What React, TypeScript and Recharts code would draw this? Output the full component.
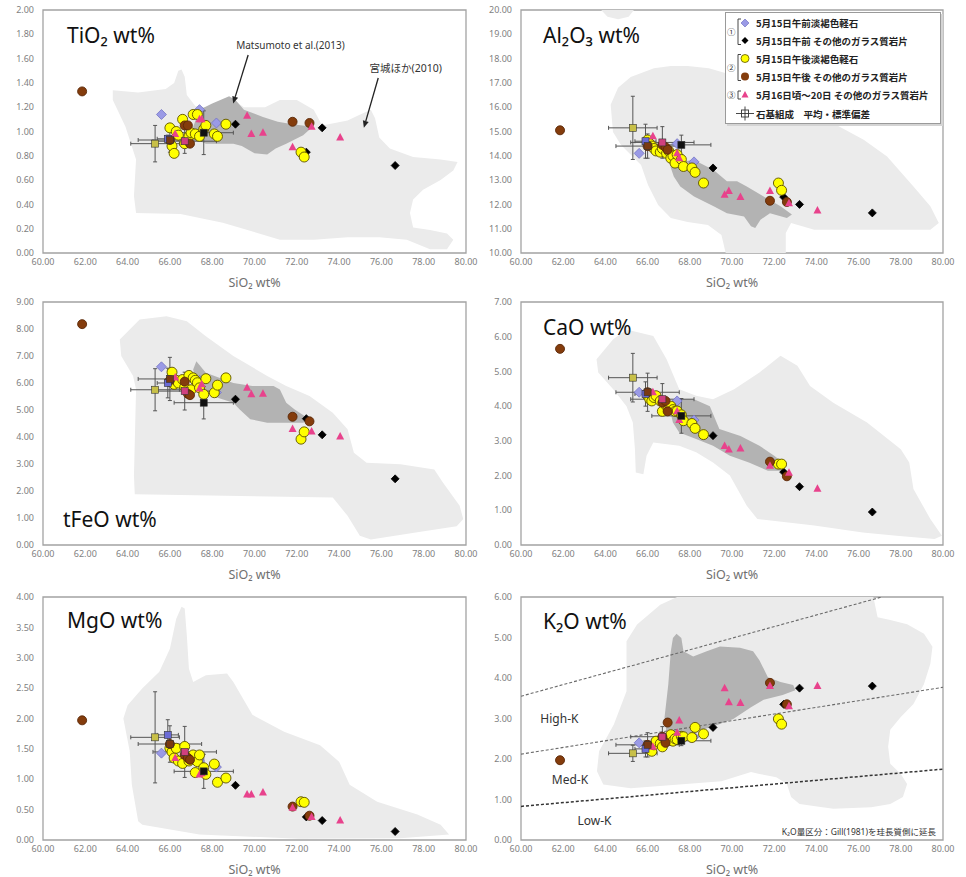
import React from 'react';
import { ScatterChart, Scatter, XAxis, YAxis, ReferenceArea } from 'recharts';

const xTicks = [60, 62, 64, 66, 68, 70, 72, 74, 76, 78, 80];

// 5/15 AM pale brown pumice (blue diamonds)
const amPumiceSi = [65.6, 67.4, 68.2];
const amPumiceTi = [1.14, 1.18, 1.07];
const amPumiceAl = [14.1, 14.5, 13.75];
const amPumiceFe = [6.6, 6.1, 5.65];
const amPumiceCa = [4.4, 4.15, 3.6];
const amPumiceMg = [1.43, 1.3, 1.2];
const amPumiceK = [2.4, 2.6, 2.55];

// 5/15 AM other glassy fragments (black diamonds)
const amOtherSi = [69.1, 72.45, 73.2, 76.65];
const amOtherTi = [1.06, 0.83, 1.03, 0.72];
const amOtherAl = [13.5, 12.3, 12.0, 11.65];
const amOtherFe = [5.4, 4.68, 4.08, 2.45];
const amOtherCa = [3.15, 2.1, 1.68, 0.95];
const amOtherMg = [0.9, 0.38, 0.32, 0.14];
const amOtherK = [2.78, 3.35, 3.75, 3.8];

// 5/15 PM pale brown pumice (yellow circles)
const pmPumiceSi = [66.0, 66.1, 66.2, 66.3, 66.4, 66.6, 66.7, 66.9, 67.0, 67.1, 67.2, 67.3, 67.4, 67.6, 67.7, 68.1, 68.25, 68.65, 72.2, 72.35];
const pmPumiceTi = [1.03, 0.88, 0.82, 1.0, 0.97, 1.1, 0.9, 0.96, 0.99, 1.14, 0.98, 1.14, 0.96, 1.02, 1.05, 0.98, 0.96, 1.06, 0.83, 0.79];
const pmPumiceAl = [14.65, 14.5, 14.4, 14.3, 14.2, 14.15, 14.3, 14.1, 14.2, 13.9, 14.0, 13.7, 14.05, 13.85, 13.56, 13.5, 13.32, 12.88, 12.88, 12.58];
const pmPumiceFe = [6.05, 6.4, 5.95, 6.1, 6.0, 6.13, 5.85, 6.28, 5.75, 6.19, 6.1, 6.01, 5.82, 5.58, 6.16, 5.64, 5.92, 6.19, 3.92, 4.19];
const pmPumiceCa = [4.3, 4.2, 4.15, 4.25, 4.3, 4.15, 3.85, 4.0, 3.95, 4.0, 3.9, 3.85, 3.86, 3.75, 3.58, 3.5, 3.36, 3.18, 2.33, 2.33];
const pmPumiceMg = [1.51, 1.45, 1.35, 1.51, 1.3, 1.26, 1.54, 1.3, 1.35, 1.4, 1.11, 1.29, 1.4, 1.19, 1.08, 1.25, 0.95, 1.02, 0.63, 0.62];
const pmPumiceK = [2.3, 2.25, 2.19, 2.35, 2.44, 2.38, 2.3, 2.44, 2.5, 2.6, 2.44, 2.5, 2.48, 2.56, 2.55, 2.53, 2.78, 2.62, 2.99, 2.86];

// 5/15 PM other glassy fragments (brown circles)
const pmOtherSi = [61.85, 66.0, 66.7, 66.85, 66.95, 71.8, 72.6];
const pmOtherTi = [1.33, 0.93, 1.05, 1.05, 0.9, 1.08, 1.07];
const pmOtherAl = [15.05, 14.4, 14.45, 14.35, 14.25, 12.15, 12.1];
const pmOtherFe = [8.18, 6.1, 6.05, 5.6, 5.55, 4.75, 4.58];
const pmOtherCa = [5.65, 4.4, 4.1, 4.15, 3.85, 2.4, 1.98];
const pmOtherMg = [1.97, 1.58, 1.4, 1.35, 1.32, 0.55, 0.4];
const pmOtherK = [1.97, 2.35, 2.55, 2.4, 2.9, 3.88, 3.35];

// 5/16-20 other glassy fragments (pink triangles)
const laterSi = [66.25, 67.4, 67.5, 69.65, 69.85, 70.4, 71.8, 72.7, 74.05];
const laterTi = [0.98, 1.1, 1.1, 1.13, 0.98, 0.99, 0.87, 1.04, 0.95];
const laterAl = [14.8, 14.1, 13.9, 12.4, 12.55, 12.3, 12.55, 12.05, 11.75];
const laterFe = [6.2, 5.8, 5.95, 5.82, 5.58, 5.6, 4.3, 4.2, 4.02];
const laterCa = [4.4, 3.85, 3.6, 2.85, 2.75, 2.78, 2.28, 2.08, 1.62];
const laterMg = [1.35, 1.08, 1.1, 0.75, 0.75, 0.78, 0.53, 0.38, 0.32];
const laterK = [2.3, 2.65, 2.95, 3.75, 3.4, 3.38, 3.8, 3.3, 3.8];

// groundmass mean ± sd: blue, olive, brown, pink, black
const meanSi = [65.9, 65.3, 66.0, 66.7, 67.6];
const meanSiSd = [0.5, 1.15, 1.5, 1.5, 1.4];
const meanTi = [0.94, 0.9, 0.93, 0.92, 0.99];
const meanTiSd = [0.03, 0.15, 0.1, 0.1, 0.18];
const meanAl = [14.6, 15.15, 14.4, 14.55, 14.45];
const meanAlSd = [0.7, 1.3, 0.5, 0.65, 0.4];
const meanFe = [6.0, 5.75, 6.15, 5.7, 5.27];
const meanFeSd = [0.55, 0.78, 0.8, 0.7, 0.6];
const meanCa = [4.35, 4.82, 4.4, 4.2, 3.72];
const meanCaSd = [0.35, 0.7, 0.55, 0.45, 0.5];
const meanMg = [1.73, 1.69, 1.58, 1.45, 1.13];
const meanMgSd = [0.25, 0.75, 0.3, 0.42, 0.28];
const meanK = [2.25, 2.14, 2.35, 2.55, 2.45];
const meanKSd = [0.2, 0.2, 0.3, 0.25, 0.12];

// compositional fields: Miyagi et al. (2010) light, Matsumoto et al. (2013) dark
const tiLight = [[63.3, 1.34], [64.5, 1.32], [65.8, 1.35], [66.2, 1.4], [66.4, 1.5], [66.55, 1.51], [66.7, 1.45], [66.8, 1.3], [67.2, 1.21], [67.7, 1.2], [68.5, 1.22], [69.0, 1.26], [69.5, 1.2], [70.5, 1.2], [71.2, 1.26], [72.0, 1.26], [72.8, 1.18], [73.2, 1.05], [74.4, 1.09], [75.0, 1.14], [75.5, 1.18], [75.7, 1.11], [75.9, 0.95], [76.4, 0.86], [77.5, 0.79], [78.8, 0.77], [79.6, 0.75], [79.4, 0.68], [78.8, 0.6], [77.97, 0.52], [77.5, 0.44], [77.35, 0.33], [77.5, 0.21], [78.3, 0.19], [79.1, 0.16], [79.4, 0.11], [79.1, 0.03], [78.3, 0.03], [77.2, 0.11], [75.9, 0.13], [74.4, 0.13], [72.8, 0.11], [71.2, 0.11], [68.5, 0.25], [66.5, 0.32], [64.4, 0.33], [64.3, 0.47], [64.4, 0.77], [63.9, 1.04], [63.3, 1.26]];
const tiDark = [[67.1, 1.04], [67.4, 1.18], [68.0, 1.23], [68.8, 1.29], [69.1, 1.26], [69.5, 1.18], [70.4, 1.12], [71.1, 1.08], [71.8, 1.06], [72.75, 1.04], [72.3, 0.97], [71.5, 0.9], [71.0, 0.86], [70.6, 0.81], [70.0, 0.82], [69.4, 0.88], [69.0, 0.9], [68.4, 0.9], [67.7, 0.9], [67.3, 0.93]];
const alLightTop = [[63.8, 20], [64.1, 19.72], [64.6, 19.62], [65.1, 19.72], [65.35, 20]];
const alLight = [[64.25, 16.1], [64.6, 16.8], [65.2, 17.24], [66.3, 17.6], [67.1, 17.7], [67.9, 17.7], [68.9, 17.6], [70.5, 17.2], [73.0, 16.2], [75.1, 15.2], [76.24, 14.66], [77.35, 13.97], [78.6, 12.74], [79.4, 11.92], [79.8, 11.23], [79.4, 10.96], [77.0, 10.96], [73.9, 10.96], [72.8, 11.23], [72.55, 10.82], [72.55, 10.0], [69.7, 10.0], [69.5, 10.74], [68.86, 11.15], [67.9, 11.28], [67.1, 11.44], [66.5, 11.98], [66.02, 12.8], [65.69, 13.62], [64.74, 14.44], [64.36, 14.98]];
const alDark = [[67.08, 13.56], [67.6, 13.75], [68.18, 13.84], [69.13, 13.42], [69.76, 12.95], [70.24, 12.95], [70.7, 12.74], [71.5, 12.33], [72.3, 11.92], [72.84, 11.58], [72.6, 11.44], [71.8, 11.64], [71.35, 11.37], [71.1, 11.03], [70.9, 11.1], [70.57, 11.5], [69.76, 11.64], [69.13, 11.92], [68.2, 12.33], [67.55, 12.74], [67.24, 13.15]];
const feLight = [[63.63, 7.61], [64.57, 8.35], [65.84, 8.47], [66.8, 8.29], [67.7, 7.73], [69.0, 7.0], [70.6, 6.26], [71.5, 5.89], [72.6, 5.52], [73.7, 4.9], [74.4, 4.29], [74.7, 3.42], [75.3, 3.05], [76.9, 2.99], [78.5, 2.8], [78.9, 2.32], [79.7, 1.45], [79.87, 0.96], [79.56, 0.69], [77.7, 0.47], [75.5, 0.2], [74.98, 0.34], [74.4, 1.08], [73.7, 1.76], [64.34, 1.88], [64.3, 2.56], [64.4, 5.76], [64.26, 6.26], [63.7, 7.0]];
const feDark = [[67.25, 6.81], [67.7, 6.38], [69.0, 6.0], [69.9, 5.89], [70.9, 5.89], [71.2, 5.76], [71.5, 5.27], [71.9, 5.02], [72.6, 4.66], [72.3, 4.53], [70.6, 4.53], [69.8, 4.66], [69.3, 5.02], [69.0, 5.27], [68.0, 5.52], [67.25, 6.0], [67.1, 6.5]];
const caLight = [[63.58, 5.35], [64.37, 5.93], [65.0, 6.21], [66.27, 6.02], [66.9, 5.35], [67.5, 4.49], [68.3, 4.3], [69.1, 4.2], [70.1, 4.49], [71.3, 4.97], [72.3, 5.45], [73.1, 5.16], [73.7, 4.58], [74.8, 4.1], [76.4, 3.53], [78.0, 2.76], [78.4, 2.38], [78.6, 1.61], [79.4, 0.75], [79.95, 0.27], [79.6, 0.17], [77.8, 0.27], [76.2, 0.36], [73.9, 0.56], [71.2, 0.75], [70.7, 1.13], [69.9, 2.0], [69.1, 2.38], [68.3, 2.67], [67.5, 2.86], [66.27, 2.95], [65.95, 2.57], [65.8, 2.04], [65.44, 2.09], [65.4, 2.76], [65.3, 3.53], [65.0, 4.0], [64.37, 4.49], [63.66, 4.97]];
const caDark = [[67.2, 4.2], [68.2, 4.2], [68.95, 4.0], [69.4, 3.34], [70.4, 3.14], [71.3, 2.86], [72.0, 2.57], [72.6, 2.28], [72.3, 2.14], [71.7, 2.14], [70.8, 2.38], [69.9, 2.57], [69.1, 2.86], [68.3, 3.05], [67.5, 3.24], [67.2, 3.53], [67.05, 3.91]];
const mgLight = [[66.55, 3.84], [66.7, 3.81], [66.8, 3.37], [66.9, 2.82], [67.1, 2.6], [67.7, 2.71], [68.7, 2.74], [69.0, 2.6], [69.9, 2.06], [71.4, 1.78], [73.1, 1.56], [74.0, 1.29], [74.5, 0.91], [75.8, 0.63], [77.7, 0.42], [78.8, 0.25], [79.2, 0.09], [76.9, 0.03], [72.1, 0.02], [67.4, 0.09], [64.7, 0.25], [64.5, 0.31], [64.2, 0.91], [64.1, 1.46], [63.8, 2.0], [64.0, 2.22], [64.7, 2.5], [65.5, 2.77], [66.0, 3.15], [66.3, 3.64]];
const kLight = [[65.0, 4.91], [65.5, 5.32], [66.6, 5.81], [67.4, 6.0], [76.7, 6.0], [76.9, 5.5], [77.5, 5.43], [78.3, 5.33], [79.1, 5.09], [79.5, 4.77], [79.4, 4.35], [79.1, 3.85], [78.6, 3.36], [78.0, 3.04], [77.5, 2.72], [77.4, 2.3], [77.5, 1.88], [78.0, 1.63], [78.3, 1.38], [78.1, 1.06], [77.5, 0.89], [76.6, 0.81], [74.8, 0.77], [73.2, 0.89], [72.8, 1.06], [72.6, 1.38], [72.1, 1.55], [71.3, 1.63], [70.9, 1.68], [69.5, 1.45], [67.5, 1.37], [65.2, 1.28], [63.9, 1.37], [63.6, 1.7], [63.7, 2.19], [64.4, 2.85], [65.0, 3.67], [65.0, 4.5]];
const kDark = [[67.2, 4.99], [67.37, 5.09], [67.6, 4.99], [67.7, 4.66], [68.16, 4.53], [68.8, 4.66], [69.43, 4.78], [70.38, 4.75], [71.0, 4.66], [71.3, 4.44], [71.7, 4.02], [72.3, 3.9], [72.9, 3.83], [73.0, 3.7], [72.4, 3.58], [71.5, 3.46], [70.9, 3.28], [70.06, 2.99], [69.1, 2.8], [68.3, 2.68], [67.5, 2.6], [66.9, 2.64], [66.8, 3.01], [66.98, 3.84], [67.1, 4.66]];

// Gill (1981) K2O boundaries, extended
const highKLine = [[60, 3.55], [77.1, 6.0]];
const medKLine = [[60, 2.12], [80, 3.77]];
const lowKLine = [[60, 0.83], [80, 1.75]];

const LIGHT = '#ebebeb';
const DARK = '#b3b3b3';
const BLUE = '#9a9ae6';
const YELLOW = '#ffff00';
const BROWN = '#843c0c';
const PINK = '#e8428c';
const meanColors = ['#6b6bd6', '#c8c048', '#7a3a12', '#d0407f', '#111111'];

const zip = (xs: number[], ys: number[]) => xs.map((x, i) => ({ x, y: ys[i] }));
const poly = (pairs: number[][]) => pairs.map(([x, y]) => ({ x, y }));

const noDot = () => <g />;
const diamond = (s: number, fill: string, stroke: string) => (p: any) => (
  <path d={`M${p.cx},${p.cy - s}L${p.cx + s},${p.cy}L${p.cx},${p.cy + s}L${p.cx - s},${p.cy}Z`} fill={fill} stroke={stroke} strokeWidth={0.8} />
);
const circle = (r: number, fill: string, stroke: string) => (p: any) => (
  <circle cx={p.cx} cy={p.cy} r={r} fill={fill} stroke={stroke} strokeWidth={0.9} />
);
const triangle = (p: any) => (
  <path d={`M${p.cx},${p.cy - 4.5}L${p.cx + 4},${p.cy + 3}L${p.cx - 4},${p.cy + 3}Z`} fill={PINK} />
);
const square = (fill: string) => (p: any) => (
  <rect x={p.cx - 3.5} y={p.cy - 3.5} width={7} height={7} fill={fill} stroke="#333" strokeWidth={0.6} />
);
const textAt = (label: string, size: number, anchor: string) => (p: any) => (
  <text x={p.cx} y={p.cy} fontSize={size} textAnchor={anchor} dominantBaseline="central" fill="#333" fontFamily="'Noto Sans', 'Noto Sans CJK JP', sans-serif">
    {label}
  </text>
);
const arrowLine = (p: any) => {
  const [a, b] = p.points;
  const ang = Math.atan2(b.y - a.y, b.x - a.x);
  const L = 7;
  const W = 3;
  const bx = b.x - L * Math.cos(ang);
  const by = b.y - L * Math.sin(ang);
  const nx = -Math.sin(ang) * W;
  const ny = Math.cos(ang) * W;
  return (
    <g>
      <line x1={a.x} y1={a.y} x2={bx} y2={by} stroke="#222" strokeWidth={1.3} />
      <polygon points={`${b.x},${b.y} ${bx + nx},${by + ny} ${bx - nx},${by - ny}`} fill="#222" />
    </g>
  );
};
// error bar with end caps, drawn from the two end points placed by the scatter scales
const errLine = (horizontal: boolean) => (p: any) => {
  const [a, b] = p.points;
  const c = 2;
  return (
    <g stroke="#555" strokeWidth={1}>
      <line x1={a.x} y1={a.y} x2={b.x} y2={b.y} />
      {horizontal ? (
        <>
          <line x1={a.x} y1={a.y - c} x2={a.x} y2={a.y + c} />
          <line x1={b.x} y1={b.y - c} x2={b.x} y2={b.y + c} />
        </>
      ) : (
        <>
          <line x1={a.x - c} y1={a.y} x2={a.x + c} y2={a.y} />
          <line x1={b.x - c} y1={b.y} x2={b.x + c} y2={b.y} />
        </>
      )}
    </g>
  );
};

interface PanelProps {
  left: number;
  top: number;
  yDomain: [number, number];
  yTicks: number[];
  light: number[][][];
  dark: number[][][];
  blue: number[];
  black: number[];
  yellow: number[];
  brown: number[];
  pink: number[];
  mean: number[];
  meanSd: number[];
  extra?: React.ReactNode;
}

const tickStyle = { fill: '#7f7f7f', fontSize: 9, fontFamily: "'Noto Sans', sans-serif" };

function Panel(props: PanelProps) {
  const { left, top, yDomain, yTicks, light, dark, extra, mean, meanSd } = props;
  const right = left > 0;
  return (
    <div style={{ position: 'absolute', left, top }}>
      <ScatterChart width={483} height={290} margin={{ top: 10, right: right ? 23 : 17, left: 0, bottom: 0 }}>
        <XAxis
          type="number"
          dataKey="x"
          domain={[60, 80]}
          ticks={xTicks}
          allowDataOverflow
          tickFormatter={(v: number) => v.toFixed(2)}
          tick={tickStyle}
          tickLine={false}
          axisLine={false}
          tickMargin={0}
          height={37}
          label={{ value: 'SiO₂ wt%', position: 'insideBottom', offset: 3, fill: '#707070', fontSize: 12.5, fontFamily: "'Noto Sans', sans-serif" }}
        />
        <YAxis
          type="number"
          dataKey="y"
          domain={yDomain}
          ticks={yTicks}
          allowDataOverflow
          tickFormatter={(v: number) => v.toFixed(2)}
          tick={tickStyle}
          tickLine={false}
          axisLine={false}
          tickMargin={3}
          width={right ? 38 : 43}
        />
        {light.map((r, i) => (
          <Scatter key={'l' + i} data={poly(r)} shape={noDot} line={{ fill: LIGHT, stroke: 'none' }} lineJointType="linearClosed" isAnimationActive={false} />
        ))}
        {dark.map((r, i) => (
          <Scatter key={'d' + i} data={poly(r)} shape={noDot} line={{ fill: DARK, stroke: 'none' }} lineJointType="linearClosed" isAnimationActive={false} />
        ))}
        {extra}
        <ReferenceArea x1={60} x2={80} y1={yDomain[0]} y2={yDomain[1]} fill="none" stroke="#a3a3a3" strokeWidth={1.3} />
        {meanSi.map((x, i) => (
          <Scatter key={'ex' + i} data={[{ x: x - meanSiSd[i], y: mean[i] }, { x: x + meanSiSd[i], y: mean[i] }]} shape={noDot} line={errLine(true)} isAnimationActive={false} />
        ))}
        {meanSi.map((x, i) => (
          <Scatter key={'ey' + i} data={[{ x, y: mean[i] - meanSd[i] }, { x, y: mean[i] + meanSd[i] }]} shape={noDot} line={errLine(false)} isAnimationActive={false} />
        ))}
        <Scatter data={zip(amPumiceSi, props.blue)} shape={diamond(5, BLUE, '#7474c4')} isAnimationActive={false} />
        <Scatter data={zip(amOtherSi, props.black)} shape={diamond(4, '#000', '#000')} isAnimationActive={false} />
        <Scatter data={zip(pmPumiceSi, props.yellow)} shape={circle(5, YELLOW, '#5c5000')} isAnimationActive={false} />
        <Scatter data={zip(pmOtherSi, props.brown)} shape={circle(4.5, BROWN, '#5a2808')} isAnimationActive={false} />
        <Scatter data={zip(laterSi, props.pink)} shape={triangle} isAnimationActive={false} />
        {meanSi.map((x, i) => (
          <Scatter key={'m' + i} data={[{ x, y: mean[i] }]} shape={square(meanColors[i])} isAnimationActive={false} />
        ))}
      </ScatterChart>
    </div>
  );
}

const tiExtra = [
  <Scatter key="a1" data={poly([[69.7, 1.63], [68.99, 1.23]])} shape={noDot} line={arrowLine} isAnimationActive={false} />,
  <Scatter key="a2" data={poly([[75.85, 1.44], [75.17, 1.03]])} shape={noDot} line={arrowLine} isAnimationActive={false} />,
  <Scatter key="t1" data={poly([[71.7, 1.71]])} shape={textAt('Matsumoto et al.(2013)', 10, 'middle')} isAnimationActive={false} />,
  <Scatter key="t2" data={poly([[77.15, 1.52]])} shape={textAt('宮城ほか(2010)', 10.5, 'middle')} isAnimationActive={false} />,
];

const kExtra = [
  <Scatter key="k1" data={poly(highKLine)} shape={noDot} line={{ stroke: '#6a6a6a', strokeWidth: 1.1, strokeDasharray: '3 2' }} isAnimationActive={false} />,
  <Scatter key="k2" data={poly(medKLine)} shape={noDot} line={{ stroke: '#6a6a6a', strokeWidth: 1.1, strokeDasharray: '3 2' }} isAnimationActive={false} />,
  <Scatter key="k3" data={poly(lowKLine)} shape={noDot} line={{ stroke: '#333', strokeWidth: 1.5, strokeDasharray: '3 2' }} isAnimationActive={false} />,
  <Scatter key="h" data={poly([[61.82, 3.01]])} shape={textAt('High-K', 12, 'middle')} isAnimationActive={false} />,
  <Scatter key="m" data={poly([[62.32, 1.5]])} shape={textAt('Med-K', 12, 'middle')} isAnimationActive={false} />,
  <Scatter key="lo" data={poly([[63.48, 0.47]])} shape={textAt('Low-K', 12, 'middle')} isAnimationActive={false} />,
  <Scatter key="n" data={poly([[79.67, 0.2]])} shape={textAt('K₂O量区分：Gill(1981)を珪長質側に延長', 8.5, 'end')} isAnimationActive={false} />,
];

const titleFont = "'Noto Sans', sans-serif";

function Legend() {
  const rows = [10, 27.5, 45.5, 63.5, 82, 100.5];
  const tf = { fontSize: 9.5, fontWeight: 700, fill: '#222', fontFamily: "'Noto Sans CJK JP', sans-serif" };
  const labels = [
    '5月15日午前淡褐色軽石',
    '5月15日午前 その他のガラス質岩片',
    '5月15日午後淡褐色軽石',
    '5月15日午後 その他のガラス質岩片',
    '5月16日頃～20日 その他のガラス質岩片',
    '石基組成　平均・標準偏差',
  ];
  const mx = 19;
  const num = { fontSize: 8.5, fill: '#333', fontFamily: "'Noto Sans CJK JP', sans-serif" };
  return (
    <div style={{ position: 'absolute', left: 725, top: 12, width: 214, height: 110, background: '#fff', border: '1px solid #9a9a9a', boxShadow: '2px 2px 0 #d4d4d4' }}>
      <svg width={214} height={110}>
        <text x={1} y={22} {...num}>①</text>
        <path d={`M15,${rows[0] - 4}H12V${rows[1] + 4}H15`} fill="none" stroke="#333" strokeWidth={0.9} />
        <text x={1} y={58} {...num}>②</text>
        <path d={`M15,${rows[2] - 4}H12V${rows[3] + 4}H15`} fill="none" stroke="#333" strokeWidth={0.9} />
        <text x={1} y={rows[4] + 3} {...num}>③</text>
        <path d={`M15,${rows[4] - 4}H12V${rows[4] + 4}H15`} fill="none" stroke="#333" strokeWidth={0.9} />
        <path d={`M${mx},${rows[0] - 4}L${mx + 4},${rows[0]}L${mx},${rows[0] + 4}L${mx - 4},${rows[0]}Z`} fill={BLUE} stroke="#7474c4" strokeWidth={0.7} />
        <path d={`M${mx},${rows[1] - 3.5}L${mx + 3.5},${rows[1]}L${mx},${rows[1] + 3.5}L${mx - 3.5},${rows[1]}Z`} fill="#000" />
        <circle cx={mx} cy={rows[2]} r={4} fill={YELLOW} stroke="#5c5000" strokeWidth={0.8} />
        <circle cx={mx} cy={rows[3]} r={4} fill={BROWN} />
        <path d={`M${mx},${rows[4] - 4}L${mx + 3.5},${rows[4] + 2.5}L${mx - 3.5},${rows[4] + 2.5}Z`} fill={PINK} />
        <line x1={mx - 9} y1={rows[5]} x2={mx + 9} y2={rows[5]} stroke="#333" strokeWidth={0.9} />
        <line x1={mx} y1={rows[5] - 7} x2={mx} y2={rows[5] + 7} stroke="#333" strokeWidth={0.9} />
        <rect x={mx - 3.5} y={rows[5] - 3.5} width={7} height={7} fill="#fff" stroke="#333" strokeWidth={0.9} />
        <line x1={mx - 3.5} y1={rows[5]} x2={mx + 3.5} y2={rows[5]} stroke="#333" strokeWidth={0.9} />
        <line x1={mx} y1={rows[5] - 3.5} x2={mx} y2={rows[5] + 3.5} stroke="#333" strokeWidth={0.9} />
        {labels.map((t, i) => (
          <text key={i} x={30} y={rows[i]} dominantBaseline="central" {...tf}>{t}</text>
        ))}
      </svg>
    </div>
  );
}

export default function App() {
  return (
    <div style={{ position: 'absolute', left: 0, top: 0, width: 966, height: 877, background: '#fff', overflow: 'hidden' }}>
      <Panel left={0} top={0} yDomain={[0, 2]} yTicks={[0, 0.2, 0.4, 0.6, 0.8, 1, 1.2, 1.4, 1.6, 1.8, 2]} light={[tiLight]} dark={[tiDark]}
        blue={amPumiceTi} black={amOtherTi} yellow={pmPumiceTi} brown={pmOtherTi} pink={laterTi} mean={meanTi} meanSd={meanTiSd} extra={tiExtra} />
      <Panel left={483} top={0} yDomain={[10, 20]} yTicks={[10, 11, 12, 13, 14, 15, 16, 17, 18, 19, 20]} light={[alLightTop, alLight]} dark={[alDark]}
        blue={amPumiceAl} black={amOtherAl} yellow={pmPumiceAl} brown={pmOtherAl} pink={laterAl} mean={meanAl} meanSd={meanAlSd} />
      <Panel left={0} top={292} yDomain={[0, 9]} yTicks={[0, 1, 2, 3, 4, 5, 6, 7, 8, 9]} light={[feLight]} dark={[feDark]}
        blue={amPumiceFe} black={amOtherFe} yellow={pmPumiceFe} brown={pmOtherFe} pink={laterFe} mean={meanFe} meanSd={meanFeSd} />
      <Panel left={483} top={292} yDomain={[0, 7]} yTicks={[0, 1, 2, 3, 4, 5, 6, 7]} light={[caLight]} dark={[caDark]}
        blue={amPumiceCa} black={amOtherCa} yellow={pmPumiceCa} brown={pmOtherCa} pink={laterCa} mean={meanCa} meanSd={meanCaSd} />
      <Panel left={0} top={587} yDomain={[0, 4]} yTicks={[0, 0.5, 1, 1.5, 2, 2.5, 3, 3.5, 4]} light={[mgLight]} dark={[]}
        blue={amPumiceMg} black={amOtherMg} yellow={pmPumiceMg} brown={pmOtherMg} pink={laterMg} mean={meanMg} meanSd={meanMgSd} />
      <Panel left={483} top={587} yDomain={[0, 6]} yTicks={[0, 1, 2, 3, 4, 5, 6]} light={[kLight]} dark={[kDark]}
        blue={amPumiceK} black={amOtherK} yellow={pmPumiceK} brown={pmOtherK} pink={laterK} mean={meanK} meanSd={meanKSd} extra={kExtra} />
      <svg width={966} height={877} style={{ position: 'absolute', left: 0, top: 0, pointerEvents: 'none' }}>
        <g fontFamily={titleFont} fontSize={21} fill="#111">
          <text x={67} y={43}>TiO₂ wt%</text>
          <text x={543} y={43}>Al₂O₃ wt%</text>
          <text x={63} y={527}>tFeO wt%</text>
          <text x={543} y={335}>CaO wt%</text>
          <text x={67} y={628}>MgO wt%</text>
          <text x={543} y={629}>K₂O wt%</text>
        </g>
      </svg>
      <Legend />
    </div>
  );
}
